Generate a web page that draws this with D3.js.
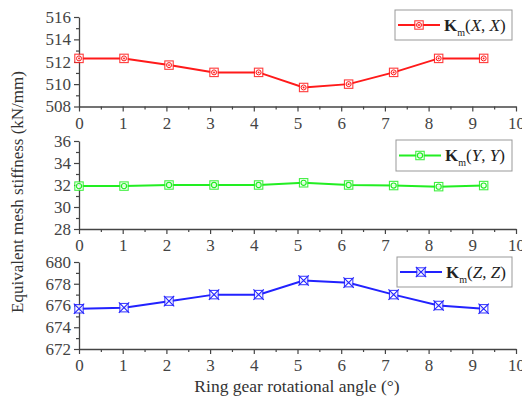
<!DOCTYPE html>
<html><head><meta charset="utf-8">
<script src="https://cdn.jsdelivr.net/npm/d3@7"></script>
<style>body{margin:0;background:#fff}svg{display:block}</style>
</head><body>
<svg id="c" width="522" height="400"></svg>
<script>
const angles = [0, 1.03, 2.06, 3.09, 4.11, 5.14, 6.17, 7.2, 8.23, 9.26];
const kxx = [512.3, 512.3, 511.7, 511.05, 511.05, 509.7, 510.0, 511.05, 512.3, 512.3];
const kyy = [31.9, 31.9, 32.0, 32.0, 32.0, 32.2, 32.0, 31.95, 31.85, 31.95];
const kzz = [675.7, 675.8, 676.4, 677.0, 677.0, 678.3, 678.1, 677.0, 676.0, 675.7];
const xTicks = [0,1,2,3,4,5,6,7,8,9,10];
const yTicksX = [508,510,512,514,516];
const yTicksY = [28,30,32,34,36];
const yTicksZ = [672,674,676,678,680];
const legendLabels = ["X","Y","Z"];
const colors = ["#ff1a1a","#22ee22","#2222ff"];

const svg = d3.select("#c");
const font = "Liberation Serif, Times New Roman, serif";
const x = d3.scaleLinear().domain([0,10]).range([79,516]);

const panels = [
  {data:kxx, ticks:yTicksX, top:17, bot:106.5, sym:"dot", leg:[395,10,512,40]},
  {data:kyy, ticks:yTicksY, top:141, bot:229, sym:"circ", leg:[396,140,512,171]},
  {data:kzz, ticks:yTicksZ, top:262, bot:349, sym:"x", leg:[397,257,512,287]}
];

function marker(g, cx, cy, sym, col){
  const s = 4.2;
  g.append("rect").attr("x",cx-s).attr("y",cy-s).attr("width",2*s).attr("height",2*s)
    .attr("fill","#fff").attr("stroke",col).attr("stroke-width",1.1).attr("opacity",0.85);
  if(sym==="dot"){
    g.append("circle").attr("cx",cx).attr("cy",cy).attr("r",2.5).attr("fill","none").attr("stroke",col).attr("stroke-width",1);
    g.append("circle").attr("cx",cx).attr("cy",cy).attr("r",0.9).attr("fill",col);
  } else if(sym==="circ"){
    g.append("circle").attr("cx",cx).attr("cy",cy).attr("r",2.6).attr("fill","none").attr("stroke",col).attr("stroke-width",1.1);
  } else {
    g.append("path").attr("d",`M${cx-s-1},${cy-s-1}L${cx+s+1},${cy+s+1}M${cx-s-1},${cy+s+1}L${cx+s+1},${cy-s-1}`)
      .attr("stroke",col).attr("stroke-width",1.1);
  }
}

panels.forEach((p,i)=>{
  const col = colors[i];
  const y = d3.scaleLinear().domain([p.ticks[0], p.ticks[p.ticks.length-1]]).range([p.bot,p.top]);
  const g = svg.append("g");
  const ya = d3.axisLeft(y).tickValues(p.ticks).tickSize(5).tickSizeOuter(0).tickPadding(3);
  g.append("g").attr("transform",`translate(${x(0)},0)`).call(ya);
  const yminor = d3.range(p.ticks[0]+1, p.ticks[p.ticks.length-1], 2);
  g.append("g").attr("transform",`translate(${x(0)},0)`)
    .call(d3.axisLeft(y).tickValues(yminor).tickSize(3).tickFormat("").tickSizeOuter(0))
    .select(".domain").remove();
  const xa = d3.axisBottom(x).tickValues(xTicks).tickSize(5).tickSizeOuter(0).tickPadding(5);
  g.append("g").attr("transform",`translate(0,${p.bot})`).call(xa);
  g.append("g").attr("transform",`translate(0,${p.bot})`)
    .call(d3.axisBottom(x).tickValues(d3.range(0.5,10,1)).tickSize(3).tickFormat("").tickSizeOuter(0))
    .select(".domain").remove();
  g.selectAll(".tick line").attr("stroke","#444").attr("stroke-width",1.2);
  g.selectAll(".domain").attr("stroke","#444").attr("stroke-width",1.3);
  g.selectAll(".tick text").attr("font-family",font).attr("font-size",17).attr("fill","#444");
  const line = d3.line().x((d,j)=>x(angles[j])).y(d=>y(d));
  g.append("path").datum(p.data).attr("d",line).attr("fill","none").attr("stroke",col).attr("stroke-width",2);
  p.data.forEach((d,j)=>marker(g, x(angles[j]), y(d), p.sym, col));
  const [lx0,ly0,lx1,ly1] = p.leg;
  g.append("rect").attr("x",lx0).attr("y",ly0).attr("width",lx1-lx0).attr("height",ly1-ly0)
    .attr("fill","#fff").attr("stroke","#999").attr("stroke-width",1);
  const cy = (ly0+ly1)/2;
  g.append("line").attr("x1",lx0+3).attr("x2",lx0+45).attr("y1",cy).attr("y2",cy).attr("stroke",col).attr("stroke-width",2);
  marker(g, lx0+24, cy, p.sym, col);
  const t = g.append("text").attr("x",lx0+49).attr("y",cy+5.5).attr("font-family",font).attr("font-size",17).attr("fill","#222");
  t.append("tspan").attr("font-weight","bold").text("K");
  t.append("tspan").attr("font-size",10).attr("dy",5).text("m");
  t.append("tspan").attr("dy",-5).text("(");
  t.append("tspan").attr("font-style","italic").text(legendLabels[i]);
  t.append("tspan").text(", ");
  t.append("tspan").attr("font-style","italic").text(legendLabels[i]);
  t.append("tspan").text(")");
});

svg.append("text").attr("transform","translate(23,192) rotate(-90)").attr("text-anchor","middle")
  .attr("font-family",font).attr("font-size",17).attr("fill","#333")
  .text("Equivalent mesh stiffness (kN/mm)");
svg.append("text").attr("x",297).attr("y",392).attr("text-anchor","middle")
  .attr("font-family",font).attr("font-size",17.5).attr("fill","#333")
  .text("Ring gear rotational angle (°)");
</script>
</body></html>
